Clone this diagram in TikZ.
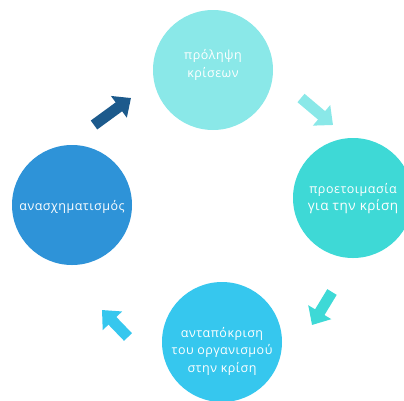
\documentclass[tikz,border=0pt]{standalone}
\usepackage{fontspec}
\setmainfont{Open Sans}[LetterSpace=4]
\usetikzlibrary{arrows.meta}

\definecolor{cPrev}{HTML}{8AE8E8}
\definecolor{cPrep}{HTML}{3ED9D6}
\definecolor{cResp}{HTML}{36C7EE}
\definecolor{cTrans}{HTML}{2E93D8}
\definecolor{cDark}{HTML}{1C5A8C}

\tikzset{
  stage/.style={circle, minimum size=120pt, inner sep=0pt},
  caption/.style={text=white, align=center, inner sep=0pt,
    font=\fontsize{12.5}{17.5}\selectfont},
  flow/.style={line width=11pt, -{Triangle[width=26pt,length=15pt]}},
}

\begin{document}
\begin{tikzpicture}[x=1pt, y=-1pt]
  \useasboundingbox (0,0) rectangle (404,400);

  % the four stages of the cycle
  \node[stage, fill=cPrev]  (prev)  at (213,70)  {};
  \node[stage, fill=cPrep]  (prep)  at (353,198) {};
  \node[stage, fill=cResp]  (resp)  at (222,342) {};
  \node[stage, fill=cTrans] (trans) at (72,205)  {};

  % their captions
  \node[caption] (prevT)  at ([yshift=5pt]prev.center)   {πρόληψη\\κρίσεων};
  \node[caption] (prepT)  at ([yshift=-0.5pt]prep.center)
    {προετοιμασία\\{\fontsize{13.5}{17.5}\selectfont για την κρίση}};
  \node[caption] (respT)  at ([yshift=-9pt]resp.center)  {ανταπόκριση\\του οργανισμού\\στην κρίση};
  \node[caption] (transT) at ([yshift=-2pt]trans.center) {ανασχηματισμός};

  % arrow end points between the stages
  \coordinate (a1s) at (301,98);   \coordinate (a1e) at (333,125);
  \coordinate (a2s) at (332,292);  \coordinate (a2e) at (312,325);
  \coordinate (a3s) at (128,337);  \coordinate (a3e) at (102,310);
  \coordinate (a4s) at (94,125);   \coordinate (a4e) at (131,98);

  \draw[flow, cPrev]  (a1s) -- (a1e);
  \draw[flow, cPrep]  (a2s) -- (a2e);
  \draw[flow, cResp]  (a3s) -- (a3e);
  \draw[flow, cDark]  (a4s) -- (a4e);
\end{tikzpicture}
\end{document}
